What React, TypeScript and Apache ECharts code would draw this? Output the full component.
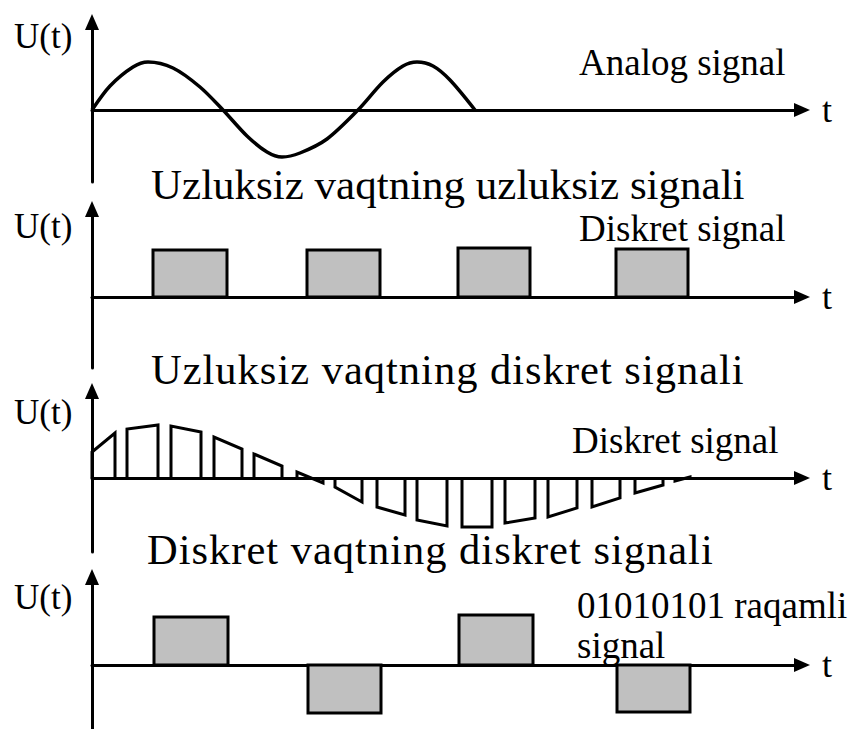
import React, { useEffect, useRef } from 'react';
import * as echarts from 'echarts';

// Panel 1: analog signal (t, U)
const analogT = [0, 1.8, 4.1, 5.6, 8.1, 10.8, 13.1, 15.5, 17.5, 19.0, 20.8, 23.5, 26.6, 29.1, 31.1, 32.5, 34.1, 35.8, 38.3];
const analogU = [0, 2.4, 4.3, 4.8, 4.2, 2.3, 0, -2.6, -4.2, -4.7, -4.3, -2.9, 0, 2.8, 4.4, 4.8, 4.4, 3.0, 0];

// Panel 2: discrete-amplitude pulses
const discreteStart = [6.1, 21.5, 36.6, 52.4];
const discreteEnd = [13.5, 28.8, 43.8, 59.6];
const discreteLevel = [4.7, 4.7, 4.9, 4.8];

// Panel 3: sampled signal pulses
const sampleStart = [0, 3.5, 7.9, 12.2, 16.2, 20.5, 24.3, 28.5, 32.5, 37.0, 41.3, 45.6, 50.0, 54.3, 58.3];
const sampleEnd = [2.3, 6.6, 10.9, 15.0, 19.0, 23.1, 27.0, 31.3, 35.5, 40.0, 44.3, 48.5, 52.8, 57.1, 59.8];
const sampleStartU = [2.6, 4.9, 5.2, 4.1, 2.4, 0.6, -0.9, -2.9, -4.2, -4.9, -4.5, -3.9, -2.9, -1.5, -0.3];
const sampleEndU = [4.5, 5.3, 4.6, 2.9, 1.2, -0.5, -2.4, -3.7, -4.8, -4.9, -4.0, -3.0, -2.0, -0.7, 0.1];

// Panel 4: digital signal 01010101
const digitalStart = [6.2, 21.6, 36.7, 52.5];
const digitalEnd = [13.6, 28.9, 44.1, 59.8];
const digitalLevel = [4.8, -4.8, 5.0, -4.7];

// Texts
const axisNameY = 'U(t)';
const axisNameX = 't';
const panelLabels = ['Analog signal', 'Diskret signal', 'Diskret signal', '01010101 raqamli', 'signal'];
const captions = [
  'Uzluksiz vaqtning uzluksiz signali',
  'Uzluksiz vaqtning diskret signali',
  'Diskret vaqtning diskret signali',
];

const FONT = "'Liberation Serif', 'Times New Roman', serif";

export default function App() {
  const ref = useRef<HTMLDivElement>(null);
  useEffect(() => {
    document.body.style.margin = '0';
    if (!ref.current) return;
    const chart = echarts.init(ref.current, null, { renderer: 'svg' });

    const grids = [
      { top: 22, height: 160, ymin: -7.2, ymax: 8.8 },
      { top: 209, height: 159, ymin: -7.1, ymax: 8.8 },
      { top: 391, height: 161, ymin: -7.4, ymax: 8.7 },
      { top: 577, height: 152, ymin: -6.4, ymax: 8.8 },
    ];

    const axisLine = {
      show: true,
      symbol: ['none', 'triangle'],
      symbolSize: [14, 16],
      lineStyle: { color: '#000', width: 3 },
    };

    const rectData = (s: number[], e: number[], l: number[]) => s.map((v, i) => [v, e[i], l[i]]);

    const rectItem = (params: any, api: any) => {
      const p0 = api.coord([api.value(0), api.value(2)]);
      const p1 = api.coord([api.value(1), 0]);
      return {
        type: 'rect',
        shape: {
          x: Math.min(p0[0], p1[0]),
          y: Math.min(p0[1], p1[1]),
          width: Math.abs(p1[0] - p0[0]),
          height: Math.abs(p1[1] - p0[1]),
        },
        style: { fill: '#c0c0c0', stroke: '#000', lineWidth: 3 },
      };
    };

    const pulseItem = (params: any, api: any) => {
      const x0 = api.value(0), x1 = api.value(1), u0 = api.value(2), u1 = api.value(3);
      const pts = [api.coord([x0, 0]), api.coord([x0, u0]), api.coord([x1, u1]), api.coord([x1, 0])];
      return {
        type: 'polyline',
        shape: { points: pts },
        style: { fill: 'none', stroke: '#000', lineWidth: 3, lineJoin: 'miter' },
      };
    };

    const textEl = (text: string, x: number, y: number, size: number) => ({
      type: 'text',
      x,
      y,
      style: { text, fill: '#000', font: `${size}px ${FONT}`, textAlign: 'left', textVerticalAlign: 'middle' },
    });

    const option: any = {
      animation: false,
      grid: grids.map((g) => ({ left: 92, width: 710, top: g.top, height: g.height })),
      xAxis: grids.map((g, i) => ({
        type: 'value',
        gridIndex: i,
        min: 0,
        max: 71,
        name: axisNameX,
        nameLocation: 'end',
        nameGap: 20,
        nameTextStyle: { fontFamily: FONT, fontSize: 36, color: '#000', verticalAlign: 'middle' },
        axisLine,
        axisTick: { show: false },
        axisLabel: { show: false },
        splitLine: { show: false },
      })),
      yAxis: grids.map((g, i) => ({
        type: 'value',
        gridIndex: i,
        min: g.ymin,
        max: g.ymax,
        axisLine,
        axisTick: { show: false },
        axisLabel: { show: false },
        splitLine: { show: false },
      })),
      series: [
        {
          type: 'line',
          xAxisIndex: 0,
          yAxisIndex: 0,
          data: analogT.map((t, i) => [t, analogU[i]]),
          smooth: 0.3,
          showSymbol: false,
          lineStyle: { color: '#000', width: 3.5 },
        },
        {
          type: 'custom',
          xAxisIndex: 1,
          yAxisIndex: 1,
          data: rectData(discreteStart, discreteEnd, discreteLevel),
          renderItem: rectItem,
        },
        {
          type: 'custom',
          xAxisIndex: 2,
          yAxisIndex: 2,
          data: sampleStart.map((s, i) => [s, sampleEnd[i], sampleStartU[i], sampleEndU[i]]),
          renderItem: pulseItem,
        },
        {
          type: 'custom',
          xAxisIndex: 3,
          yAxisIndex: 3,
          data: rectData(digitalStart, digitalEnd, digitalLevel),
          renderItem: rectItem,
        },
      ],
      graphic: [
        textEl(axisNameY, 14, 36, 35),
        textEl(axisNameY, 14, 226, 35),
        textEl(axisNameY, 14, 412, 35),
        textEl(axisNameY, 14, 597, 35),
        textEl(panelLabels[0], 579, 62, 37),
        textEl(panelLabels[1], 579, 228, 37),
        textEl(panelLabels[2], 572, 440, 37),
        textEl(panelLabels[3], 577, 605, 37),
        textEl(panelLabels[4], 577, 645, 37),
        textEl(captions[0], 151, 184, 43),
        textEl(captions[1], 151, 369, 42.5),
        textEl(captions[2], 147, 549, 42.5),
      ],
    };

    chart.setOption(option);
    return () => chart.dispose();
  }, []);
  return (
    <>
      <style>{`
        .signal-chart text[style*="42.5px"] { letter-spacing: 1px; }
      `}</style>
      <div className="signal-chart" ref={ref} style={{ width: 854, height: 729 }} />
    </>
  );
}
